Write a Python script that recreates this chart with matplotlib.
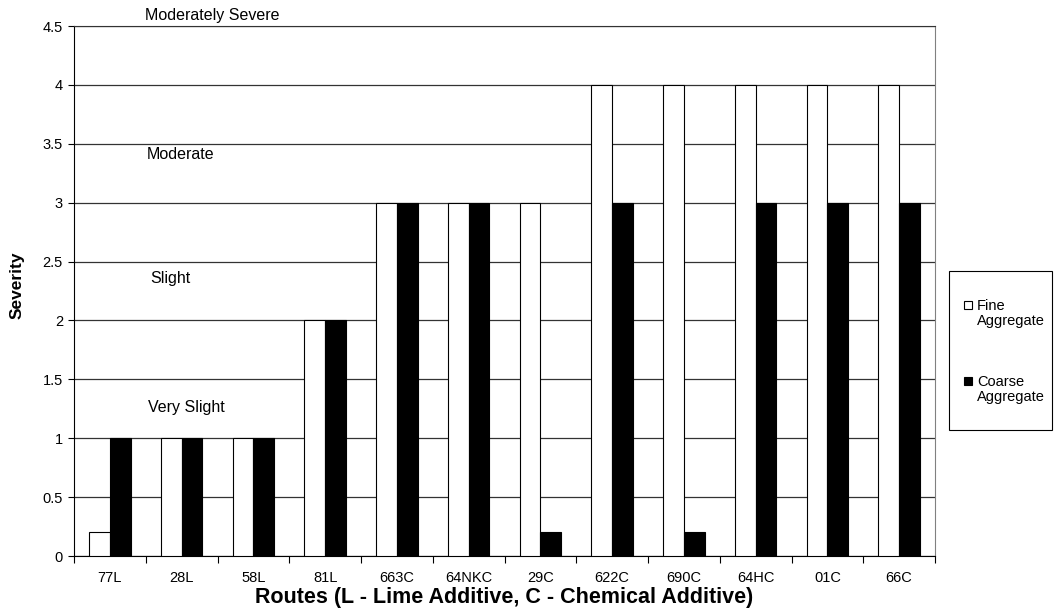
import numpy as np
import matplotlib.pyplot as plt
from matplotlib.patches import Rectangle

plt.rcParams['font.family'] = ['Liberation Sans', 'DejaVu Sans']

## Data
routes = ['77L', '28L', '58L', '81L', '663C', '64NKC', '29C', '622C', '690C', '64HC', '01C', '66C']
fine = [0.2, 1, 1, 2, 3, 3, 3, 4, 4, 4, 4, 4]
coarse = [1, 1, 1, 2, 3, 3, 0.2, 3, 0.2, 3, 3, 3]
yticks = [0, 0.5, 1, 1.5, 2, 2.5, 3, 3.5, 4, 4.5]
ytick_labels = ['0', '0.5', '1', '1.5', '2', '2.5', '3', '3.5', '4', '4.5']
severity_labels = ['Very Slight', 'Slight', 'Moderate', 'Moderately Severe']
severity_pos = [(1.06, 1.265), (0.84, 2.36), (0.98, 3.41), (1.43, 4.59)]
legend_labels = ['Fine\nAggregate', 'Coarse\nAggregate']
legend_colors = ['white', 'black']

W, H = 1054, 610
fig = plt.figure(figsize=(W/100, H/100), dpi=100)
ax = fig.add_axes([74/W, 54/H, 861/W, 530/H])

x = np.arange(len(routes))
w = 0.29
ax.bar(x - w/2, fine, w, color='white', edgecolor='black', linewidth=0.8, zorder=3)
ax.bar(x + w/2, coarse, w, color='black', edgecolor='black', linewidth=0.8, zorder=3)

ax.set_xlim(-0.5, len(routes) - 0.5)
ax.set_ylim(0, 4.5)
ax.set_yticks(yticks)
ax.set_yticklabels(ytick_labels, fontsize=10.5)
ax.yaxis.grid(True, color='#333333', linewidth=0.9, zorder=0)
ax.set_axisbelow(True)

ax.set_xticks(x)
ax.set_xticklabels(routes, fontsize=10.5)
ax.tick_params(axis='x', which='major', length=0, pad=11)
ax.set_xticks(np.arange(-0.5, len(routes)), minor=True)
ax.tick_params(axis='x', which='minor', length=5, width=0.8, direction='out')
ax.tick_params(axis='y', length=4, width=0.8, pad=4)

ax.spines['left'].set_color('black')
ax.spines['bottom'].set_color('black')
ax.spines['right'].set_color('#808080')
ax.spines['top'].set_color('#333333')

for lab, (px, py) in zip(severity_labels, severity_pos):
    ax.text(px, py, lab, ha='center', va='center', fontsize=11.5, clip_on=False, zorder=4)

ax.set_ylabel('Severity', fontsize=12.5, fontweight='bold')
ax.yaxis.set_label_coords(-0.057, 0.51)
ax.set_xlabel('Routes (L - Lime Additive, C - Chemical Additive)', fontsize=15.5,
              fontweight='bold', labelpad=1)

# legend box, drawn by hand so the swatch sits beside the first line
fig.patches.append(Rectangle((949/W, 1 - 430/H), 103/W, 159/H, transform=fig.transFigure,
                             facecolor='white', edgecolor='black', linewidth=0.8))
for i, (lab, col) in enumerate(zip(legend_labels, legend_colors)):
    top = 299 + i*76
    fig.patches.append(Rectangle((964/W, 1 - (top + 10)/H), 8/W, 8/H, transform=fig.transFigure,
                                 facecolor=col, edgecolor='black', linewidth=0.8))
    fig.text(977/W, 1 - top/H, lab, ha='left', va='top', fontsize=10.5, linespacing=1.05)

fig.savefig('out.png', dpi=100)
